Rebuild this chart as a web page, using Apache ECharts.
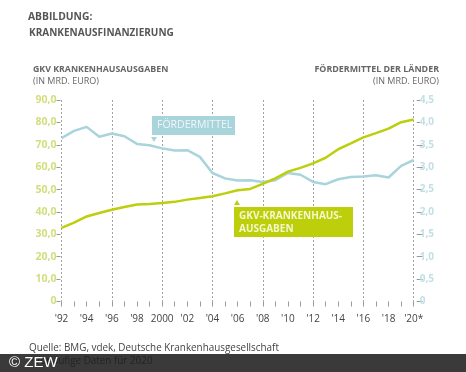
<!DOCTYPE html>
<html><head><meta charset="utf-8">
<style>html,body{margin:0;padding:0;background:#fff}#c{width:466px;height:372px}</style>
<script src="https://cdn.jsdelivr.net/npm/echarts@6/dist/echarts.min.js"></script>
</head><body><div id="c"></div>
<script>
var years = ["'92","'93","'94","'95","'96","'97","'98","'99","2000","'01","'02","'03","'04","'05","'06","'07","'08","'09","'10","'11","'12","'13","'14","'15","'16","'17","'18","'19","'20*"];
var gkvAusgaben = [32.9,35.2,38,39.5,41,42.2,43.3,43.6,44,44.5,45.5,46.2,47,48.3,49.7,50.3,52.5,55,58,59.7,61.7,64.2,68,70.6,73.3,75.2,77.2,80.1,81.3];
var foerdermittel = [3.65,3.81,3.9,3.68,3.75,3.69,3.52,3.49,3.42,3.37,3.38,3.23,2.87,2.75,2.7,2.71,2.67,2.71,2.87,2.83,2.67,2.62,2.73,2.78,2.79,2.82,2.77,3.03,3.16];
var leftTicks = {0:'0',10:'10,0',20:'20,0',30:'30,0',40:'40,0',50:'50,0',60:'60,0',70:'70,0',80:'80,0',90:'90,0'};
var rightTicks = {0:'0',0.5:'0,5',1:'1,0',1.5:'1,5',2:'2,0',2.5:'2,5',3:'3,0',3.5:'3,5',4:'4,0',4.5:'4,5'};
var shownYears = {"'92":1,"'94":1,"'96":1,"'98":1,"2000":1,"'02":1,"'04":1,"'06":1,"'08":1,"'10":1,"'12":1,"'14":1,"'16":1,"'18":1,"'20*":1};
var dashedYears = {"'92":1,"'96":1,"2000":1,"'04":1,"'08":1,"'12":1,"'16":1,"'20*":1};
var FONT = '"Open Sans","Noto Sans",sans-serif';
var OLIVE = '#bccf0a', BLUE = '#a9d4dc';
function txt(x,y,s,size,color,weight,align,z){
  return {type:'text',x:x,y:y,z:z||5,style:{text:s,fontFamily:FONT,fontSize:size,fontWeight:weight||'normal',fill:color,align:align||'left',verticalAlign:'middle'}};
}
var chart = echarts.init(document.getElementById('c'),null,{renderer:'canvas'});
chart.setOption({
  animation:false,
  backgroundColor:'#fff',
  grid:{left:61.5,right:52.3,top:100,bottom:70.5,containLabel:false},
  xAxis:{type:'category',data:years,boundaryGap:false,offset:6,
    axisLine:{show:false},
    axisTick:{show:true,length:5,interval:0,lineStyle:{color:'#999',width:1}},
    axisLabel:{interval:0,margin:7,color:'#444',fontFamily:FONT,fontSize:10,
      formatter:function(v){return shownYears[v]?v:'';}},
    splitLine:{show:true,interval:function(i,v){return !!dashedYears[v];},lineStyle:{color:'#a3a3a3',type:[2,2],width:1}}},
  yAxis:[
    {type:'value',min:0,max:90,interval:10,position:'left',offset:1,
     axisLine:{show:false},axisTick:{show:true,length:4,lineStyle:{color:'#999'}},
     axisLabel:{margin:4,color:'#d3de7c',fontFamily:FONT,fontSize:10.5,fontWeight:'bold',padding:[0,0,4,0],
       formatter:function(v){return leftTicks[v];}},splitLine:{show:false}},
    {type:'value',min:0,max:4.5,interval:0.5,position:'right',offset:3,
     axisLine:{show:false},axisTick:{show:true,length:6,lineStyle:{color:'#999'}},
     axisLabel:{margin:3,color:'#c3e0e6',fontFamily:FONT,fontSize:10,fontWeight:'bold',padding:[0,0,4,0],
       formatter:function(v){return rightTicks[v];}},splitLine:{show:false}}
  ],
  series:[
    {name:'Fördermittel',type:'line',yAxisIndex:1,data:foerdermittel,showSymbol:false,lineStyle:{color:BLUE,width:2.5},itemStyle:{color:BLUE}},
    {name:'GKV-Krankenhausausgaben',type:'line',yAxisIndex:0,data:gkvAusgaben,showSymbol:false,lineStyle:{color:OLIVE,width:2.5},itemStyle:{color:OLIVE}}
  ],
  graphic:[
    txt(28,17,'ABBILDUNG:',10.3,'#555','bold'),
    txt(29,33,'KRANKENAUSFINANZIERUNG',10,'#555','bold'),
    txt(33,69.5,'GKV KRANKENHAUSAUSGABEN',8.8,'#666','bold'),
    txt(33,81,'(IN MRD. EURO)',9,'#666','normal'),
    txt(439,69.5,'FÖRDERMITTEL DER LÄNDER',8.9,'#666','bold','right'),
    txt(439,81,'(IN MRD. EURO)',9,'#666','normal','right'),
    {type:'rect',shape:{x:152,y:116,width:83,height:19},style:{fill:BLUE},z:10},
    txt(157,125.5,'FÖRDERMITTEL',10.5,'#eef7f8','normal','left',11),
    {type:'polygon',shape:{points:[[151,137],[157,137],[154,142]]},style:{fill:BLUE},z:10},
    {type:'rect',shape:{x:234,y:207,width:119,height:30},style:{fill:OLIVE},z:10},
    txt(239,216,'GKV-KRANKENHAUS-',10,'#f4f7d0','bold','left',11),
    txt(239,229,'AUSGABEN',10,'#f4f7d0','bold','left',11),
    {type:'polygon',shape:{points:[[234,205],[240,205],[237,200]]},style:{fill:OLIVE},z:10},
    txt(29,348,'Quelle: BMG, vdek, Deutsche Krankenhausgesellschaft',9.9,'#444','normal'),
    {type:'rect',shape:{x:0,y:354,width:466,height:18},style:{fill:'#3a3a3a'},z:20},
    txt(29,361,'*Vorläufige Daten für 2020',9.9,'#232323','normal','left',21),
    {type:'text',x:9,y:363,z:22,style:{text:'© ZEW',fontFamily:'"Liberation Sans",sans-serif',fontSize:15,fill:'#fff',verticalAlign:'middle'}}
  ]
});
</script></body></html>
